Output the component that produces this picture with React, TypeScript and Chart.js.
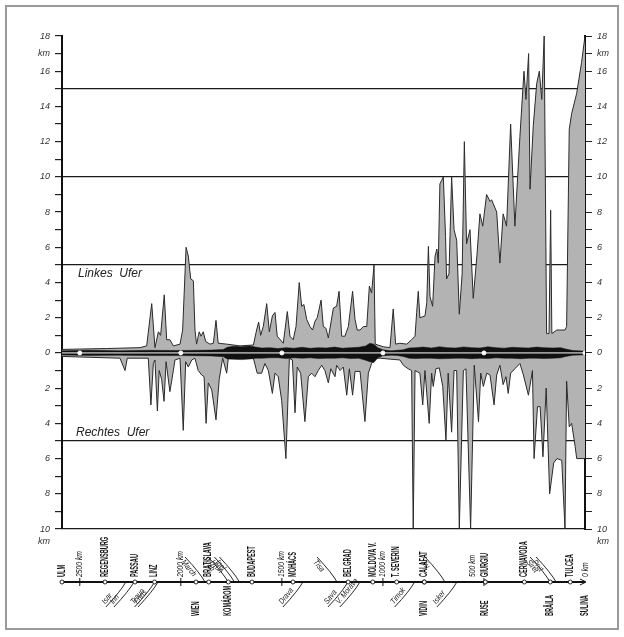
import React, { useEffect, useRef } from "react";
import { Chart, registerables } from "chart.js";
Chart.register(...registerables);

// River kilometres (Sulina = 0 km, Ulm = 2588 km)
const leftKm = [2588, 2367, 2202, 2169, 2144, 2128, 2111, 2100, 2082, 2070, 2054, 2037, 2004, 1991, 1974, 1963, 1951, 1938, 1930, 1922, 1909, 1900, 1889, 1877, 1856, 1839, 1826, 1815, 1773, 1707, 1641, 1625, 1615, 1605, 1592, 1575, 1562, 1547, 1534, 1523, 1493, 1473, 1460, 1444, 1430, 1414, 1402, 1391, 1377, 1361, 1348, 1336, 1325, 1306, 1295, 1282, 1270, 1245, 1229, 1217, 1204, 1188, 1171, 1150, 1138, 1127, 1113, 1097, 1080, 1067, 1056, 1044, 1038, 998, 965, 949, 937, 916, 882, 858, 841, 833, 825, 817, 792, 783, 775, 767, 754, 742, 733, 726, 718, 701, 690, 685, 673, 660, 648, 635, 622, 608, 597, 586, 569, 553, 535, 520, 506, 487, 470, 462, 437, 421, 405, 388, 368, 347, 322, 302, 292, 279, 272, 256, 239, 226, 214, 202, 190, 178, 170, 164, 140, 99, 91, 78, 66, 41, 17, 0];
const leftWidth = [0.2, 0.25, 0.3, 0.4, 2.8, 0.3, 1.2, 1.0, 3.3, 0.75, 0.75, 0.4, 0.5, 1.3, 6.0, 5.5, 4.2, 4.1, 1.3, 0.5, 1.2, 0.95, 1.2, 0.65, 0.5, 0.55, 1.85, 0.55, 0.5, 0.4, 0.45, 1.3, 1.75, 1.0, 1.5, 2.8, 1.2, 2.1, 2.3, 0.95, 0.55, 2.35, 0.95, 0.75, 1.5, 4.0, 2.65, 2.75, 1.9, 1.5, 1.3, 1.8, 2.0, 3.0, 1.5, 1.4, 0.85, 2.55, 2.65, 3.5, 0.95, 0.95, 1.5, 3.5, 1.9, 1.3, 1.3, 1.5, 1.5, 3.8, 3.4, 5.0, 0.5, 0.35, 0.3, 2.5, 0.5, 0.55, 0.5, 0.75, 0.95, 2.3, 3.5, 2.0, 2.1, 2.85, 6.05, 3.2, 2.65, 5.5, 5.9, 5.1, 9.6, 10.0, 6.6, 4.2, 4.5, 10.0, 7.0, 6.4, 2.2, 4.5, 12.0, 6.2, 7.0, 3.1, 5.5, 7.9, 7.2, 9.0, 8.6, 8.7, 8.0, 5.1, 7.9, 7.2, 13.0, 7.2, 12.3, 16.0, 14.4, 17.0, 9.3, 12.9, 15.3, 16.0, 14.4, 18.0, 1.1, 1.1, 8.1, 1.1, 1.3, 1.3, 1.5, 12.7, 13.6, 14.75, 16.5, 18.0];

const rightKm = [2588, 2301, 2276, 2265, 2161, 2148, 2136, 2128, 2116, 2107, 2095, 2083, 2073, 2054, 2037, 2029, 2004, 1988, 1976, 1963, 1946, 1930, 1914, 1897, 1885, 1875, 1864, 1847, 1826, 1810, 1793, 1773, 1765, 1641, 1622, 1600, 1584, 1567, 1547, 1534, 1518, 1501, 1480, 1463, 1448, 1435, 1424, 1407, 1386, 1369, 1353, 1336, 1320, 1303, 1287, 1270, 1258, 1237, 1229, 1212, 1196, 1179, 1166, 1150, 1138, 1113, 1089, 1072, 1056, 1039, 1015, 916, 899, 875, 858, 850, 841, 817, 803, 792, 771, 759, 751, 738, 721, 704, 688, 677, 660, 648, 635, 622, 602, 589, 566, 548, 527, 516, 503, 486, 470, 450, 437, 421, 405, 391, 380, 368, 347, 322, 305, 280, 260, 252, 235, 222, 208, 192, 175, 155, 139, 115, 99, 91, 78, 66, 49, 41, 0];
const rightWidth = [-0.2, -0.3, -1.0, -0.3, -0.3, -2.95, -0.6, -0.4, -3.3, -1.0, -1.5, -2.75, -0.5, -2.2, -1.0, -0.4, -0.3, -4.4, -0.5, -0.8, -0.4, -0.3, -1.0, -1.25, -1.35, -4.0, -1.7, -2.1, -3.8, -1.5, -0.3, -1.15, -0.3, -0.3, -1.15, -1.15, -0.6, -1.0, -2.3, -1.15, -1.35, -2.7, -6.0, -0.3, -0.4, -3.4, -0.8, -1.15, -3.9, -1.35, -1.15, -1.35, -1.0, -0.7, -1.0, -1.7, -0.9, -1.35, -0.7, -1.0, -0.8, -2.4, -0.9, -2.4, -1.05, -1.05, -3.9, -1.15, -0.6, -0.3, -0.3, -0.4, -0.7, -0.9, -1.0, -10, -1.0, -1.15, -2.95, -1.0, -4.0, -1.15, -1.9, -0.9, -0.85, -1.9, -4.95, -1.15, -4.5, -1.0, -1.0, -10, -1.0, -0.9, -10, -0.7, -3.9, -1.15, -1.9, -1.15, -1.25, -2.95, -1.25, -0.7, -1.8, -1.35, -2.3, -1.15, -0.9, -0.6, -1.25, -2.4, -1.0, -6.0, -3.05, -3.05, -5.9, -2.0, -8.0, -6.25, -6.0, -6.1, -10, -1.6, -4.2, -4.0, -5.3, -6.0, -6.0];

const riverKm = [2588, 2450, 2300, 2150, 2000, 1850, 1790, 1770, 1740, 1700, 1660, 1630, 1600, 1560, 1520, 1480, 1440, 1400, 1360, 1320, 1280, 1240, 1200, 1160, 1120, 1085, 1065, 1045, 1025, 1000, 960, 930, 900, 870, 840, 800, 760, 720, 680, 640, 600, 560, 520, 480, 440, 400, 360, 320, 280, 240, 200, 160, 120, 95, 60, 30, 0];
const riverUpper = [0.12, 0.15, 0.12, 0.15, 0.14, 0.16, 0.2, 0.32, 0.38, 0.35, 0.4, 0.33, 0.28, 0.3, 0.25, 0.3, 0.27, 0.32, 0.26, 0.3, 0.28, 0.33, 0.27, 0.3, 0.32, 0.4, 0.55, 0.5, 0.3, 0.18, 0.12, 0.15, 0.18, 0.28, 0.3, 0.33, 0.28, 0.35, 0.3, 0.28, 0.34, 0.3, 0.28, 0.35, 0.3, 0.27, 0.32, 0.3, 0.28, 0.33, 0.3, 0.28, 0.3, 0.22, 0.14, 0.12, 0.1];
const riverLower = [-0.12, -0.14, -0.13, -0.15, -0.15, -0.17, -0.22, -0.34, -0.36, -0.38, -0.35, -0.3, -0.3, -0.28, -0.27, -0.32, -0.28, -0.3, -0.28, -0.32, -0.3, -0.3, -0.28, -0.32, -0.3, -0.42, -0.5, -0.55, -0.28, -0.16, -0.13, -0.14, -0.2, -0.3, -0.32, -0.3, -0.3, -0.33, -0.32, -0.3, -0.3, -0.33, -0.3, -0.32, -0.28, -0.3, -0.3, -0.33, -0.3, -0.3, -0.32, -0.3, -0.28, -0.2, -0.13, -0.12, -0.1];

const kmMarks = [2500, 2000, 1500, 1000, 500, 0];
const kmMarkLabels = ["2500 km", "2000 km", "1500 km", "1000 km", "500 km", "0 km"];

const cityAboveNames = ["ULM", "REGENSBURG", "PASSAU", "LINZ", "BRATISLAVA", "BUDAPEST", "MOHÁCS", "BELGRAD", "MOLDOVA V.", "T. SEVERIN", "CALAFAT", "GIURGIU", "CERNAVODA", "TULCEA"];
const cityAboveKm = [2588, 2375, 2227, 2130, 1862, 1648, 1445, 1172, 1050, 932, 795, 493, 300, 73];
const cityBelowNames = ["WIEN", "KOMÁROM", "VIDIN", "RUSE", "BRĂILA", "SULINA"];
const cityBelowKm = [1925, 1765, 795, 493, 172, 0];

const tribNames = ["Isar", "Inn", "Traun", "Enns", "March", "Váh", "Hron", "Ipel", "Drava", "Tisa", "Sava", "V. Morava", "Timok", "Jiu", "Isker", "Siret", "Prut"];
const tribKm = [2272, 2232, 2130, 2113, 1880, 1766, 1735, 1710, 1396, 1227, 1173, 1114, 843, 693, 634, 173, 143];
const tribSide = ["below", "below", "below", "below", "above", "above", "above", "above", "below", "above", "below", "below", "below", "above", "below", "above", "above"];

const yMin = -10;
const yMax = 18;
const refLines = [15, 10, 5, -5, -10];

const pts = (xs: number[], ys: number[]) => xs.map((x, i) => ({ x, y: ys[i] }));

const stripPlugin = {
  id: "danubeStrip",
  afterDraw(chart: any) {
    const { ctx, chartArea, scales } = chart;
    const xs = scales.x;
    const ys = scales.y;
    const px = (km: number) => xs.getPixelForValue(km);
    const baseY = chartArea.bottom + 53;
    ctx.save();

    // "km" under the 10 labels
    ctx.font = 'italic 9px "Liberation Sans", Arial, sans-serif';
    ctx.fillStyle = "#333";
    ctx.textBaseline = "middle";
    ctx.textAlign = "right";
    ctx.fillText("km", chartArea.left - 12, chartArea.bottom + 12);
    ctx.textAlign = "left";
    ctx.fillText("km", chartArea.right + 12, chartArea.bottom + 12);

    // bank labels
    ctx.font = 'italic 12px "Liberation Sans", Arial, sans-serif';
    ctx.fillStyle = "#222";
    ctx.fillText("Linkes  Ufer", chartArea.left + 16, ys.getPixelForValue(4.5));
    ctx.fillText("Rechtes  Ufer", chartArea.left + 14, ys.getPixelForValue(-4.55));

    // main river line
    const x0 = px(2588);
    const x1 = px(0);
    ctx.strokeStyle = "#111";
    ctx.lineWidth = 1.8;
    ctx.beginPath();
    ctx.moveTo(x0, baseY);
    ctx.lineTo(x1, baseY);
    ctx.stroke();
    ctx.lineWidth = 1;
    ctx.beginPath();
    ctx.moveTo(x1 - 5, baseY - 3);
    ctx.lineTo(x1 + 1, baseY);
    ctx.lineTo(x1 - 5, baseY + 3);
    ctx.stroke();

    // km tick marks
    kmMarks.forEach((k) => {
      if (k === 0) return;
      ctx.beginPath();
      ctx.moveTo(px(k), baseY - 4);
      ctx.lineTo(px(k), baseY + 4);
      ctx.stroke();
    });

    // tributaries
    ctx.font = 'italic 8px "Liberation Sans", Arial, sans-serif';
    ctx.fillStyle = "#222";
    tribNames.forEach((name, i) => {
      const xc = px(tribKm[i]);
      const below = tribSide[i] === "below";
      const fx = xc - 20;
      const fy = below ? baseY + 25 : baseY - 25;
      ctx.lineWidth = 0.9;
      ctx.beginPath();
      ctx.moveTo(fx, fy);
      ctx.quadraticCurveTo(xc - 5, below ? baseY + 9 : baseY - 9, xc, baseY);
      ctx.stroke();
      const ang = Math.atan2(baseY - fy, xc - fx);
      ctx.save();
      ctx.translate(fx + 1, fy);
      ctx.rotate(ang);
      ctx.textAlign = "left";
      ctx.textBaseline = below ? "bottom" : "top";
      const w = ctx.measureText(name).width;
      ctx.fillText(name, 1, below ? -1 : 1, w * 0.85);
      ctx.restore();
    });

    // city circles
    const allKm = cityAboveKm.concat(cityBelowKm);
    allKm.forEach((k) => {
      if (k === 0) return;
      ctx.beginPath();
      ctx.arc(px(k), baseY, 2, 0, Math.PI * 2);
      ctx.fillStyle = "#fff";
      ctx.fill();
      ctx.lineWidth = 0.9;
      ctx.strokeStyle = "#111";
      ctx.stroke();
    });

    // vertical labels
    const vText = (text: string, x: number, y: number, factor: number) => {
      ctx.save();
      ctx.translate(x, y);
      ctx.rotate(-Math.PI / 2);
      ctx.textAlign = "left";
      ctx.textBaseline = "middle";
      const w = ctx.measureText(text).width;
      ctx.fillText(text, 0, 0, w * factor);
      ctx.restore();
    };
    ctx.fillStyle = "#111";
    ctx.font = 'bold 10px "Liberation Sans", Arial, sans-serif';
    cityAboveNames.forEach((n, i) => vText(n, px(cityAboveKm[i]), baseY - 5, 0.56));
    cityBelowNames.forEach((n, i) => vText(n, px(cityBelowKm[i]), baseY + 34, 0.56));
    ctx.font = 'italic 9px "Liberation Sans", Arial, sans-serif';
    kmMarks.forEach((k, i) => {
      let x = px(k);
      const clash = cityAboveKm.some((c) => Math.abs(px(c) - x) < 4);
      if (clash) x -= 11;
      vText(kmMarkLabels[i], x, baseY - 5, 0.75);
    });
    ctx.restore();
  },
};

export default function App() {
  const ref = useRef<HTMLCanvasElement>(null);
  useEffect(() => {
    const tickCb = (v: any) => {
      const n = Number(v);
      if (n === 17) return "km";
      return n % 2 === 0 ? String(Math.abs(n)) : "";
    };
    const gridColor = (c: any) => (refLines.includes(c.tick.value) ? "#1a1a1a" : "rgba(0,0,0,0)");
    const tickFont = { family: '"Liberation Sans", Arial, sans-serif', size: 9, style: "italic" as const };
    const chart = new Chart(ref.current!, {
      type: "line",
      data: {
        datasets: [
          {
            data: pts([2588, ...kmMarks], [0, 0, 0, 0, 0, 0, 0]),
            borderColor: "#fff",
            borderWidth: 1,
            pointRadius: [0, 2, 2, 2, 2, 2, 2],
            pointBackgroundColor: "#fff",
            pointBorderColor: "#fff",
            fill: false,
          },
          {
            data: pts(riverKm, riverUpper),
            borderColor: "#111",
            borderWidth: 0.5,
            backgroundColor: "#111",
            pointRadius: 0,
            fill: "origin",
          },
          {
            data: pts(riverKm, riverLower),
            borderColor: "#111",
            borderWidth: 0.5,
            backgroundColor: "#111",
            pointRadius: 0,
            fill: "origin",
          },
          {
            data: pts(leftKm, leftWidth),
            borderColor: "#2a2a2a",
            borderWidth: 1,
            backgroundColor: "#b3b3b3",
            pointRadius: 0,
            fill: "origin",
          },
          {
            data: pts(rightKm, rightWidth),
            borderColor: "#2a2a2a",
            borderWidth: 1,
            backgroundColor: "#b3b3b3",
            pointRadius: 0,
            fill: "origin",
          },
        ],
      },
      options: {
        animation: false,
        responsive: false,
        devicePixelRatio: 1,
        layout: { padding: { left: 22, right: 0, top: 36, bottom: 108 } },
        plugins: { legend: { display: false }, tooltip: { enabled: false } },
        elements: { line: { tension: 0 } },
        scales: {
          x: { type: "linear", min: 0, max: 2588, reverse: true, display: false },
          y: {
            min: yMin,
            max: yMax,
            position: "left",
            afterFit: (s: any) => { s.width = 40; },
            border: { display: true, color: "#111", width: 2 },
            grid: { color: gridColor, lineWidth: 1.2, tickColor: "#222", tickLength: 7, drawTicks: true },
            ticks: { stepSize: 1, autoSkip: false, padding: 5, color: "#333", font: tickFont, callback: tickCb },
          },
          y2: {
            min: yMin,
            max: yMax,
            position: "right",
            afterFit: (s: any) => { s.width = 39; },
            border: { display: true, color: "#111", width: 2 },
            grid: { drawOnChartArea: false, tickColor: "#222", tickLength: 7 },
            ticks: { stepSize: 1, autoSkip: false, padding: 5, color: "#333", font: tickFont, callback: tickCb },
          },
        },
      },
      plugins: [stripPlugin],
    } as any);
    return () => chart.destroy();
  }, []);
  return (
    <div style={{ position: "fixed", left: 0, top: 0, width: 624, height: 637, background: "#fff", overflow: "hidden" }}>
      <canvas ref={ref} width={624} height={637} style={{ display: "block" }} />
      <div style={{ position: "absolute", left: 5, top: 5, width: 610, height: 621, border: "2px solid #9a9a9a", pointerEvents: "none" }} />
    </div>
  );
}
